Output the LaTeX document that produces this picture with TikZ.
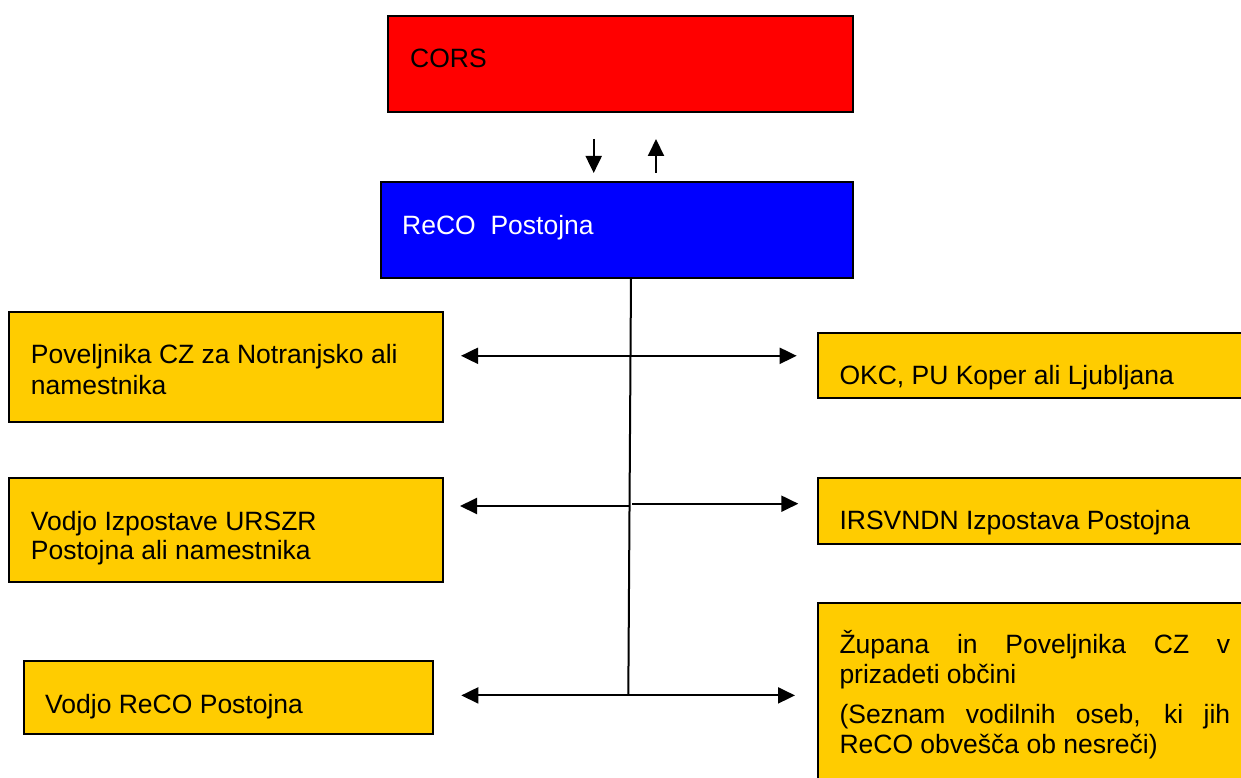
\documentclass[tikz,border=0pt]{standalone}
\usepackage{fontspec}
\setmainfont{Liberation Sans}
\usetikzlibrary{arrows.meta}
\definecolor{corsred}{HTML}{FF0000}
\definecolor{recoblue}{HTML}{0000FF}
\definecolor{boxyellow}{HTML}{FFCC00}
\begin{document}
\begin{tikzpicture}[x=1pt,y=-1pt,
  box/.style={draw=black, line width=2pt, inner sep=0pt, outer sep=0pt},
  ybox/.style={box, fill=boxyellow},
  lbl/.style={anchor=base west, inner sep=0pt, font=\fontsize{26.5}{30}\selectfont},
  conn/.style={line width=2pt},
  arr/.style={conn, -{Triangle[length=17pt,width=16pt]}},
]
\useasboundingbox (0,0) rectangle (1241,778);
\clip (0,0) rectangle (1241,778);
% boxes
\node[box, fill=corsred, minimum width=465pt, minimum height=96.6pt] (cors) at (620.8,64) {};
\node[box, fill=recoblue, minimum width=472.3pt, minimum height=96pt] (reco) at (617.15,229.7) {};
\node[ybox, minimum width=433.4pt, minimum height=109.4pt] (L1) at (226,367) {};
\node[ybox, minimum width=433.4pt, minimum height=104pt] (L2) at (226,529.7) {};
\node[ybox, minimum width=409pt, minimum height=73pt] (L3) at (228.2,697.5) {};
\node[ybox, minimum width=431.7pt, minimum height=65.6pt] (R1) at (1034.15,365.5) {};
\node[ybox, minimum width=432.3pt, minimum height=66.3pt] (R2) at (1033.85,510.85) {};
\node[ybox, minimum width=431.7pt, minimum height=187.3pt] (R3) at (1034.15,696.35) {};
% texts
\node[lbl] (tcors) at (410,68) {CORS};
\node[lbl, text=white] (treco) at (402,234) {ReCO\ \ Postojna};
\node[lbl] (tL1a) at (30.7,363.3) {Poveljnika CZ za Notranjsko ali};
\node[lbl] (tL1b) at (30.7,394.3) {namestnika};
\node[lbl] (tL2a) at (30.7,530) {Vodjo Izpostave URSZR};
\node[lbl] (tL2b) at (30.7,559.8) {Postojna ali namestnika};
\node[lbl] (tL3) at (45,713.3) {Vodjo ReCO Postojna};
\node[lbl] (tR1) at (839.3,384) {OKC, PU Koper ali Ljubljana};
\node[lbl] (tR2) at (839.3,529) {IRSVNDN Izpostava Postojna};
\node[lbl] (tR3a) at (839.3,653.3) {\makebox[390.7pt][s]{Župana in Poveljnika CZ v}};
\node[lbl] (tR3b) at (839.3,683.3) {prizadeti občini};
\node[lbl] (tR3c) at (839.3,723.3) {\makebox[390.7pt][s]{(Seznam vodilnih oseb, ki jih}};
\node[lbl] (tR3d) at (839.3,753.3) {ReCO obvešča ob nesreči)};
% connector points
\coordinate (dtop) at (593.7,139);
\coordinate (dbot) at (593.7,173);
\coordinate (ubot) at (656,173);
\coordinate (utop) at (656,139);
\coordinate (trunkTop) at (631,277.7);
\coordinate (trunkBot) at (628.3,695.6);
\coordinate (j1) at (630.6,355.8);
\coordinate (j1l) at (461,355.8);
\coordinate (j1r) at (796.7,355.8);
\coordinate (j2) at (630,506);
\coordinate (j2l) at (460,506);
\coordinate (j2rs) at (632.3,503.7);
\coordinate (j2r) at (798.3,503.7);
\coordinate (j3) at (628.3,695.4);
\coordinate (j3l) at (461.3,695.4);
\coordinate (j3r) at (795,695.4);
% connectors
\draw[arr] (dtop) -- (dbot);
\draw[arr] (ubot) -- (utop);
\draw[conn] (trunkTop) -- (trunkBot);
\draw[arr] (j1) -- (j1l);
\draw[arr] (j1) -- (j1r);
\draw[arr] (j2) -- (j2l);
\draw[arr] (j2rs) -- (j2r);
\draw[arr] (j3) -- (j3l);
\draw[arr] (j3) -- (j3r);
\end{tikzpicture}
\end{document}
